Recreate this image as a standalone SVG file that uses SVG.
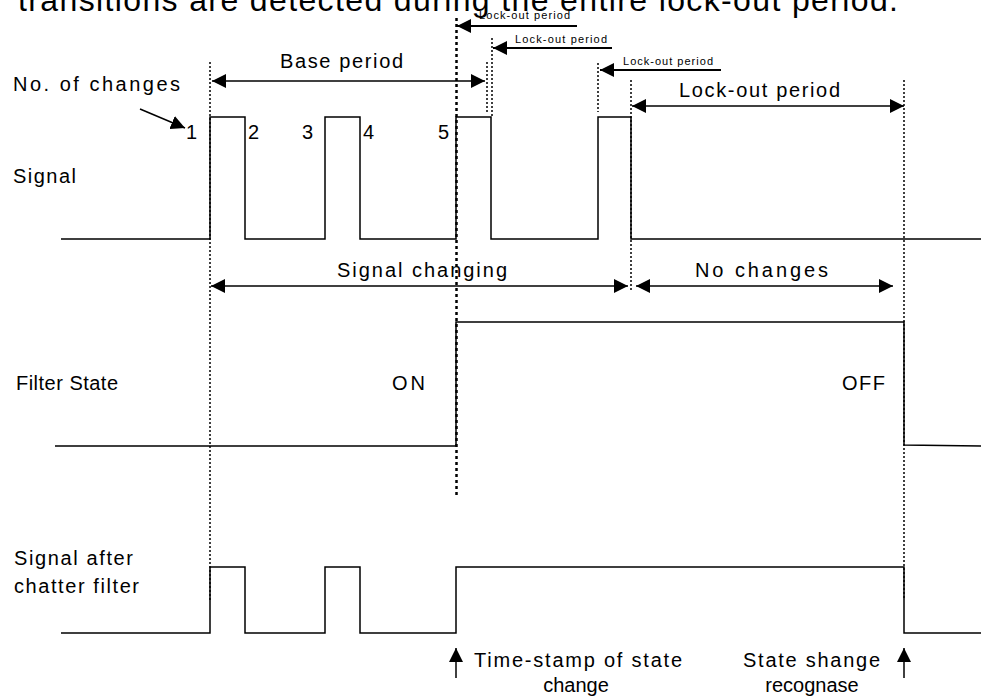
<svg xmlns="http://www.w3.org/2000/svg" width="981" height="699" viewBox="0 0 981 699">
<style>
text{font-family:"Liberation Sans",Arial,sans-serif;fill:#000}
.lbl{font-size:20px}
.sm{font-size:11px}
.top{font-size:32px}
.wave{fill:none;stroke:#000;stroke-width:1.5}
.dot{fill:none;stroke:#000;stroke-width:1.5;stroke-dasharray:2 2}
.dotb{fill:none;stroke:#000;stroke-width:2.5;stroke-dasharray:3 3}
.arr{fill:none;stroke:#000;stroke-width:1.5}
.arrs{fill:none;stroke:#000;stroke-width:2}
</style>
<defs>
<marker id="ah" viewBox="0 0 14 14" refX="14" refY="7" markerWidth="14" markerHeight="14" markerUnits="userSpaceOnUse" orient="auto-start-reverse">
<path d="M0,0 L14,7 L0,14 z" fill="#000"/>
</marker>
</defs>
<rect width="981" height="699" fill="#fff"/>
<text class="top" x="18" y="11" textLength="880" lengthAdjust="spacing">transitions are detected during the entire lock-out period.</text>

<g id="guides">
<line class="dot" x1="210" y1="62" x2="210" y2="600"/>
<line class="dotb" x1="456.5" y1="18" x2="456.5" y2="497"/>
<line class="dot" x1="487" y1="62" x2="487" y2="112"/>
<line class="dot" x1="492" y1="38" x2="492" y2="117"/>
<line class="dot" x1="598" y1="63" x2="598" y2="112"/>
<line class="dot" x1="631" y1="80" x2="631" y2="292"/>
<line class="dot" x1="904" y1="80" x2="904" y2="600"/>
</g>

<g id="signal">
<polyline class="wave" points="61,239 210,239 210,117 245,117 245,239 325,239 325,117 360,117 360,239 456,239 456,117 491,117 491,239 598,239 598,117 631,117 631,239 981,239"/>
<text class="lbl" x="13" y="183" textLength="63" lengthAdjust="spacing">Signal</text>
</g>

<g id="changes">
<text class="lbl" x="13" y="91" textLength="167" lengthAdjust="spacing">No. of changes</text>
<text class="lbl" x="186" y="139">1</text>
<text class="lbl" x="248" y="139">2</text>
<text class="lbl" x="302" y="139">3</text>
<text class="lbl" x="363" y="139">4</text>
<text class="lbl" x="438" y="139">5</text>
</g>

<g id="filter-state">
<polyline class="wave" points="55,446 456,446 456,322 904,322 904,445 981,446"/>
<text class="lbl" x="16" y="390" textLength="102" lengthAdjust="spacing">Filter State</text>
<text class="lbl" x="392" y="390" textLength="33" lengthAdjust="spacing">ON</text>
<text class="lbl" x="842" y="390" textLength="43" lengthAdjust="spacing">OFF</text>
</g>

<g id="filtered-signal">
<polyline class="wave" points="61,633 210,633 210,567 245,567 245,633 325,633 325,567 360,567 360,633 456,633 456,567 904,567 904,633 981,633"/>
<text class="lbl" x="14" y="565" textLength="119" lengthAdjust="spacing">Signal after</text>
<text class="lbl" x="14" y="593" textLength="125" lengthAdjust="spacing">chatter filter</text>
</g>

<g id="labels">
<text class="lbl" x="280" y="68" textLength="123" lengthAdjust="spacing">Base period</text>
<text class="sm" x="479" y="19" textLength="91" lengthAdjust="spacing">Lock-out period</text>
<text class="sm" x="515" y="43" textLength="92" lengthAdjust="spacing">Lock-out period</text>
<text class="sm" x="623" y="65" textLength="90" lengthAdjust="spacing">Lock-out period</text>
<text class="lbl" x="679" y="97" textLength="161" lengthAdjust="spacing">Lock-out period</text>
<text class="lbl" x="337" y="277" textLength="170" lengthAdjust="spacing">Signal changing</text>
<text class="lbl" x="695" y="277" textLength="133" lengthAdjust="spacing">No changes</text>
<text class="lbl" x="474" y="667" textLength="208" lengthAdjust="spacing">Time-stamp of state</text>
<text class="lbl" x="576" y="692" text-anchor="middle">change</text>
<text class="lbl" x="743" y="667" textLength="137" lengthAdjust="spacing">State shange</text>
<text class="lbl" x="812" y="692" text-anchor="middle">recognase</text>
</g>

<g id="connectors">
<line class="arr" x1="140" y1="109" x2="185" y2="128" marker-end="url(#ah)"/>
<line class="arr" x1="212" y1="81" x2="485" y2="81" marker-start="url(#ah)" marker-end="url(#ah)"/>
<line class="arrs" x1="577" y1="26" x2="457" y2="26" marker-end="url(#ah)"/>
<line class="arrs" x1="612" y1="48" x2="493" y2="48" marker-end="url(#ah)"/>
<line class="arrs" x1="721" y1="70" x2="600" y2="70" marker-end="url(#ah)"/>
<line class="arr" x1="632" y1="106" x2="904" y2="106" marker-start="url(#ah)" marker-end="url(#ah)"/>
<line class="arr" x1="211" y1="286" x2="628" y2="286" marker-start="url(#ah)" marker-end="url(#ah)"/>
<line class="arr" x1="636" y1="286" x2="893" y2="286" marker-start="url(#ah)" marker-end="url(#ah)"/>
<line class="arr" x1="456" y1="678" x2="456" y2="648" marker-end="url(#ah)"/>
<line class="arr" x1="904" y1="678" x2="904" y2="648" marker-end="url(#ah)"/>
</g>
</svg>
